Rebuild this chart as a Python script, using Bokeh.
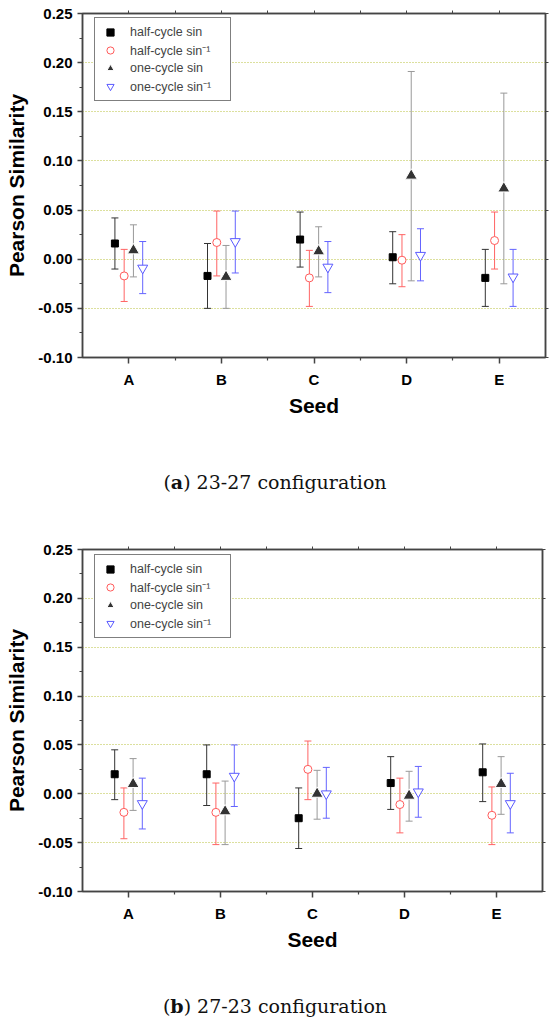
from bokeh.plotting import figure
from bokeh.models import (ColumnDataSource, Whisker, TeeHead, Legend, LegendItem,
                          LinearAxis, FixedTicker, NumeralTickFormatter, Range1d, Div)
from bokeh.layouts import column
from bokeh.embed import file_html
from bokeh.resources import INLINE

# ---------------- data ----------------
seeds = ["A", "B", "C", "D", "E"]
series_names = ["half-cycle sin", "half-cycle sin\u207b\u00b9", "one-cycle sin", "one-cycle sin\u207b\u00b9"]

y_ticks = [-0.10, -0.05, 0.00, 0.05, 0.10, 0.15, 0.20, 0.25]
y_minor = [-0.075, -0.025, 0.025, 0.075, 0.125, 0.175, 0.225]
grid_ticks = [-0.05, 0.00, 0.05, 0.10, 0.15, 0.20]

# (a) 23-27 configuration
hs_a = [0.016, -0.017, 0.020, 0.002, -0.019]
hs_a_hi = [0.042, 0.016, 0.048, 0.028, 0.010]
hs_a_lo = [-0.010, -0.050, -0.008, -0.025, -0.048]
hi_a = [-0.017, 0.017, -0.019, -0.001, 0.019]
hi_a_hi = [0.010, 0.049, 0.009, 0.025, 0.048]
hi_a_lo = [-0.043, -0.017, -0.048, -0.028, -0.010]
os_a = [0.009, -0.018, 0.008, 0.085, 0.072]
os_a_hi = [0.035, 0.014, 0.033, 0.191, 0.169]
os_a_lo = [-0.018, -0.050, -0.018, -0.022, -0.025]
oi_a = [-0.009, 0.018, -0.008, 0.004, -0.018]
oi_a_hi = [0.018, 0.049, 0.018, 0.031, 0.010]
oi_a_lo = [-0.035, -0.014, -0.034, -0.022, -0.048]

# (b) 27-23 configuration
hs_b = [0.020, 0.020, -0.025, 0.011, 0.022]
hs_b_hi = [0.045, 0.050, 0.006, 0.038, 0.051]
hs_b_lo = [-0.006, -0.012, -0.056, -0.016, -0.008]
hi_b = [-0.019, -0.019, 0.025, -0.011, -0.022]
hi_b_hi = [0.006, 0.011, 0.054, 0.016, 0.007]
hi_b_lo = [-0.046, -0.052, -0.006, -0.040, -0.052]
os_b = [0.010, -0.018, 0.000, -0.002, 0.010]
os_b_hi = [0.036, 0.013, 0.024, 0.023, 0.038]
os_b_lo = [-0.017, -0.052, -0.026, -0.028, -0.021]
oi_b = [-0.010, 0.018, 0.000, 0.002, -0.010]
oi_b_hi = [0.016, 0.050, 0.027, 0.028, 0.021]
oi_b_lo = [-0.036, -0.013, -0.025, -0.024, -0.040]

# ---------------- styles ----------------
offsets = [-0.15, -0.05, 0.05, 0.15]
styles = [
    dict(marker="square", size=7, fill_color="black", line_color="black", line_width=1, bar="#333333"),
    dict(marker="circle", size=8, fill_color="white", line_color="#ff5a5a", line_width=1, bar="#ff6464"),
    dict(marker="triangle", size=12, fill_color="#333333", line_color="white", line_width=1, bar="#999999"),
    dict(marker="inverted_triangle", size=10, fill_color="white", line_color="#5a5aff", line_width=1, bar="#6464ff"),
]
FONT = "Liberation Sans"
AX = "#444444"


def make_panel(vals, frame_w, frame_h, top_border, legend_top):
    p = figure(frame_width=frame_w, frame_height=frame_h,
               x_range=Range1d(0.5, 5.5), y_range=Range1d(-0.10, 0.25),
               output_backend="svg", toolbar_location=None,
               min_border_left=82, min_border_right=4, min_border_top=top_border,
               min_border_bottom=70, background_fill_color="white")
    p.outline_line_color = AX
    p.outline_line_width = 1.5

    # axes
    xa = p.xaxis[0]
    xa.ticker = FixedTicker(ticks=[1, 2, 3, 4, 5], minor_ticks=[1.5, 2.5, 3.5, 4.5])
    xa.major_label_overrides = {i + 1: s for i, s in enumerate(seeds)}
    xa.axis_label = "Seed"
    ya = p.yaxis[0]
    ya.ticker = FixedTicker(ticks=y_ticks, minor_ticks=y_minor)
    ya.formatter = NumeralTickFormatter(format="0.00")
    ya.axis_label = "Pearson Similarity"
    for ax in (xa, ya):
        ax.axis_line_color = AX
        ax.axis_line_width = 1.5
        ax.major_tick_line_color = AX
        ax.minor_tick_line_color = AX
        ax.major_tick_line_width = 1.5
        ax.minor_tick_line_width = 1.2
        ax.major_tick_in = 0
        ax.minor_tick_in = 0
        ax.major_label_text_font = FONT
        ax.major_label_text_font_style = "bold"
        ax.major_label_text_font_size = "15px"
        ax.major_label_text_color = "black"
        ax.axis_label_text_font = FONT
        ax.axis_label_text_font_style = "bold"
        ax.axis_label_text_font_size = "21px"
        ax.axis_label_text_color = "black"
    xa.major_tick_out = 6
    xa.minor_tick_out = 3
    xa.major_label_standoff = 7
    xa.axis_label_standoff = 3
    ya.major_tick_out = 5
    ya.minor_tick_out = 3
    ya.major_label_standoff = 5
    ya.axis_label_standoff = 7

    xt = [1, 2, 3, 4, 5]
    top = LinearAxis(ticker=FixedTicker(ticks=xt, minor_ticks=[1.5, 2.5, 3.5, 4.5]),
                     major_label_overrides={t: "" for t in xt},
                     major_label_text_font_size="1px", major_label_standoff=0,
                     major_tick_out=3, major_tick_in=0, minor_tick_out=3, minor_tick_in=0,
                     axis_line_color=AX, axis_line_width=1.5,
                     major_tick_line_color=AX, minor_tick_line_color=AX)
    right = LinearAxis(ticker=FixedTicker(ticks=y_ticks, minor_ticks=[]),
                       major_label_overrides={t: "" for t in y_ticks},
                       major_label_text_font_size="1px", major_label_standoff=0,
                       major_tick_out=3, major_tick_in=0, minor_tick_out=0, minor_tick_in=0,
                       axis_line_color=AX, axis_line_width=1.5, major_tick_line_color=AX)
    top.formatter = NumeralTickFormatter(format="0.00")
    right.formatter = NumeralTickFormatter(format="0.00")
    p.add_layout(top, "above")
    p.add_layout(right, "right")

    p.xgrid.visible = False
    p.ygrid.ticker = FixedTicker(ticks=grid_ticks)
    p.ygrid.grid_line_color = "#b8c03c"
    p.ygrid.grid_line_dash = "1 2"
    p.ygrid.grid_line_width = 1

    items = []
    for k, (v, hi, lo) in enumerate(vals):
        st = styles[k]
        xs = [i + 1 + offsets[k] for i in range(len(seeds))]
        src = ColumnDataSource(dict(x=xs, y=v, hi=hi, lo=lo))
        w = Whisker(base="x", upper="hi", lower="lo", source=src,
                    line_color=st["bar"], line_width=1,
                    upper_head=TeeHead(size=7, line_color=st["bar"], line_width=1),
                    lower_head=TeeHead(size=7, line_color=st["bar"], line_width=1))
        p.add_layout(w)
        r = p.scatter("x", "y", source=src, marker=st["marker"], size=st["size"],
                      fill_color=st["fill_color"], line_color=st["line_color"],
                      line_width=st["line_width"])
        items.append(LegendItem(label=series_names[k], renderers=[r]))

    leg = Legend(items=items, location=(12, frame_h - legend_top - 82),
                 label_text_font=FONT, label_text_font_size="12.5px",
                 label_height=18, glyph_height=18, glyph_width=20, label_standoff=10,
                 label_width=95, padding=5, spacing=0, margin=0,
                 border_line_color="black", border_line_width=1.5,
                 background_fill_color="white", background_fill_alpha=1)
    p.add_layout(leg)
    return p


vals_a = [(hs_a, hs_a_hi, hs_a_lo), (hi_a, hi_a_hi, hi_a_lo),
          (os_a, os_a_hi, os_a_lo), (oi_a, oi_a_hi, oi_a_lo)]
vals_b = [(hs_b, hs_b_hi, hs_b_lo), (hi_b, hi_b_hi, hi_b_lo),
          (os_b, os_b_hi, os_b_lo), (oi_b, oi_b_hi, oi_b_lo)]

pA = make_panel(vals_a, 463, 344, 13, 6)
pB = make_panel(vals_b, 460, 342, 9, 7)

CAP = ("<div style='width:550px;text-align:center;font-family:\"DejaVu Serif\";"
       "font-size:19px;line-height:22px;color:#111;padding-top:{pt}px'>"
       "(<b>{l}</b>) {t}</div>")
divA = Div(text=CAP.format(pt=44, l="a", t="23-27 configuration"), width=550, height=113, margin=0)
divB = Div(text=CAP.format(pt=34, l="b", t="27-23 configuration"), width=550, height=55, margin=0)

layout = column(pA, divA, pB, divB, spacing=0)
open("out.html", "w").write(file_html(layout, INLINE))
